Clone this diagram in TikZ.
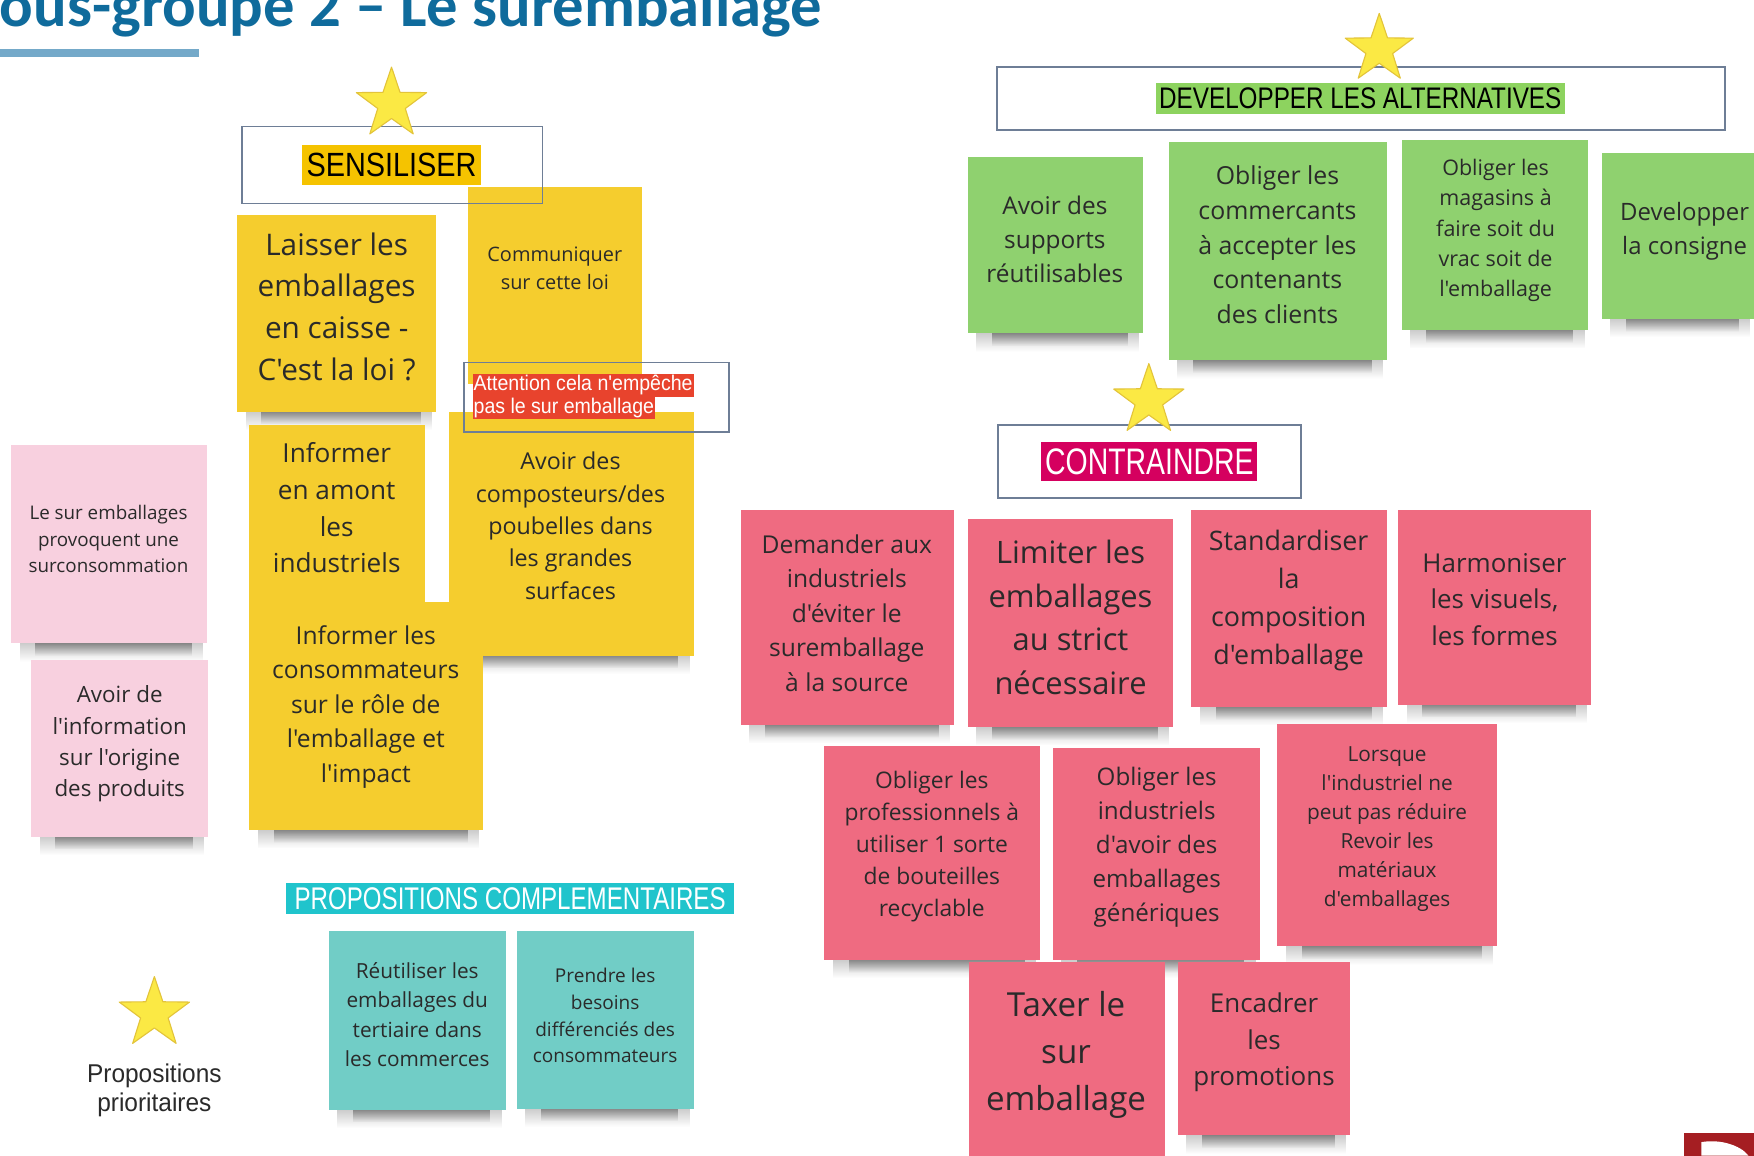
\documentclass[tikz,border=0pt]{standalone}
\usepackage{fontspec}
\usepackage{graphicx}
\setmainfont{Open Sans}[Ligatures=TeXOff]
\newfontfamily\hdfont{Liberation Sans}[Ligatures=TeXOff]
\newfontfamily\titlefont{Carlito}[Ligatures=TeXOff]
\usetikzlibrary{shapes.geometric,fit,backgrounds,fadings}
\definecolor{yel}{HTML}{F5CD2E}
\definecolor{pinkl}{HTML}{F8D0DF}
\definecolor{tealn}{HTML}{71CDC6}
\definecolor{greenn}{HTML}{8FD16F}
\definecolor{redn}{HTML}{EF6B81}
\definecolor{boxline}{HTML}{6E7E96}
\definecolor{staryel}{HTML}{FBE944}
\definecolor{starline}{HTML}{E3C43A}
\definecolor{titleblue}{HTML}{0F6B9C}
\definecolor{barblue}{HTML}{74A9C9}
\definecolor{hlyel}{HTML}{F5C300}
\definecolor{hlgreen}{HTML}{8DD35F}
\definecolor{hlmag}{HTML}{D5005F}
\definecolor{hlcyan}{HTML}{20C4CC}
\definecolor{hlred}{HTML}{E8432D}
\definecolor{logored}{HTML}{A51E22}
\definecolor{notetext}{HTML}{2A2A2A}
\tikzfading[name=shfa, top color=transparent!78, bottom color=transparent!100]
\tikzfading[name=shfb, top color=transparent!62, bottom color=transparent!100]
\newcommand\fs[2]{\fontsize{#1pt}{#2pt}\selectfont}
\newcommand\sq[2]{\scalebox{#1}[1]{#2}}
\tikzset{
  note/.style={rectangle, fill=#1, inner sep=0pt, draw=none},
  ntxt/.style={align=center, inner sep=0pt, text=notetext},
  hbox/.style={rectangle, draw=boxline, line width=0.8pt, inner sep=0pt},
  hl/.style={rectangle, inner sep=0pt, draw=none, font=\hdfont},
  starry/.style={star, star points=5, star point ratio=2.55, fill=staryel, draw=starline,
    line width=0.5pt, line join=round, minimum size=#1, inner sep=0pt}
}
\begin{document}
\begin{tikzpicture}[x=0.5pt,y=-0.5pt]
\useasboundingbox (0,0) rectangle (1568,1033);
\begin{scope}[on background layer]
  \fill[white] (0,0) rectangle (1568,1033);
\end{scope}

% title
\begin{scope}
  \clip (0,0) rectangle (1568,1033);
  \node[anchor=base west, inner sep=0pt, text=titleblue, font={\titlefont\bfseries\fs{28}{30}}] (title) at (-27,24) {Sous-groupe 2 – Le suremballage};
\end{scope}
\fill[barblue] (0,44) rectangle (178,51);

% ===== SENSIBILISER group =====
\node[note=yel, fit={(418,167)(574,343)}] (y2) {};
\node[ntxt, font={\fs{8.9}{12.5}}] (y2t) at (496,240) {Communiquer\\sur cette loi};

\node[hbox, fit={(216,113)(485,182)}] (sensbox) {};
\node[hl, fill=hlyel, text=black, font={\hdfont\fs{15}{15}}, minimum width=80pt, minimum height=17.5pt] (senst) at (350,147.5) {\sq{0.86}{SENSILISER}};
\node[starry=33pt] (s1) at (350,93) {};

\node[note=yel, fit={(212,192)(390,368)}] (y1) {};
\node[ntxt, font={\fs{13.3}{18.6}}] (y1t) at (301,274) {Laisser les\\emballages\\en caisse -\\C'est la loi ?};

\node[note=yel, fit={(401,368)(620,586)}] (y3) {};
\node[ntxt, font={\fs{10.4}{14.5}}] (y3t) at (510,470) {Avoir des\\composteurs/des\\poubelles dans\\les grandes\\surfaces};

\node[note=yel, fit={(223,380)(380,540)}] (y4) {};
\node[ntxt, font={\fs{11.7}{16.4}}] (y4t) at (301,454) {Informer\\en amont\\les\\industriels};

\node[note=yel, fit={(223,538)(432,742)}] (y5) {};
\node[ntxt, font={\fs{11}{15.4}}] (y5t) at (327,632) {Informer les\\consommateurs\\sur le rôle de\\l'emballage et\\l'impact};

\node[hbox, fit={(415,324)(652,386)}] (attbox) {};
\node[hl, fill=hlred, text=white, font={\hdfont\fs{9.5}{9.5}}, anchor=west, minimum height=10.5pt, inner xsep=0.5pt] (att1) at (422,344.5) {\sq{0.92}{Attention cela n'empêche}};
\node[hl, fill=hlred, text=white, font={\hdfont\fs{9.5}{9.5}}, anchor=west, minimum height=10pt, inner xsep=0.5pt] (att2) at (422,365) {\sq{0.92}{pas le sur emballage}};

% pink notes
\node[note=pinkl, fit={(10,398)(185,575)}] (p1) {};
\node[ntxt, font={\fs{8.4}{11.8}}] (p1t) at (97,482) {Le sur emballages\\provoquent une\\surconsommation};
\node[note=pinkl, fit={(28,590)(186,748)}] (p2) {};
\node[ntxt, font={\fs{10}{14}}] (p2t) at (107,665) {Avoir de\\l'information\\sur l'origine\\des produits};

% complementary
\node[hl, fill=hlcyan, text=white, font={\hdfont\fs{14}{14}}, minimum width=200pt, minimum height=14pt] (compt) at (456,803) {\sq{0.77}{PROPOSITIONS COMPLEMENTAIRES}};
\node[note=tealn, fit={(294,832)(452,992)}] (t1) {};
\node[ntxt, font={\fs{9.3}{13}}] (t1t) at (373,907) {Réutiliser les\\emballages du\\tertiaire dans\\les commerces};
\node[note=tealn, fit={(462,832)(620,991)}] (t2) {};
\node[ntxt, font={\fs{8.5}{11.9}}] (t2t) at (541,908) {Prendre les\\besoins\\différenciés des\\consommateurs};

% legend
\node[starry=33pt] (s4) at (138,906) {};
\node[align=center, inner sep=0pt, text=notetext, font={\hdfont\fs{11.5}{13}}] (legt) at (138,975) {\sq{0.95}{Propositions}\\\sq{0.95}{prioritaires}};

% ===== DEVELOPPER group =====
\node[hbox, fit={(891,60)(1542,116)}] (devbox) {};
\node[hl, fill=hlgreen, text=black, font={\hdfont\fs{13.3}{13.3}}, minimum width=183pt, minimum height=14pt] (devt) at (1216,88) {\sq{0.815}{DEVELOPPER LES ALTERNATIVES}};
\node[starry=32pt] (s2) at (1233,44) {};

\node[note=greenn, fit={(865,140)(1022,298)}] (g1) {};
\node[ntxt, font={\fs{10.9}{15.3}}] (g1t) at (943,214) {Avoir des\\supports\\réutilisables};
\node[note=greenn, fit={(1045,127)(1240,322)}] (g2) {};
\node[ntxt, font={\fs{11.1}{15.5}}] (g2t) at (1142,219) {Obliger les\\commercants\\à accepter les\\contenants\\des clients};
\node[note=greenn, fit={(1253,125)(1420,295)}] (g3) {};
\node[ntxt, font={\fs{9.6}{13.5}}] (g3t) at (1337,206) {Obliger les\\magasins à\\faire soit du\\vrac soit de\\l'emballage};
\node[note=greenn, fit={(1432,137)(1568,285)}] (g4) {};
\node[ntxt, font={\fs{10.7}{15}}] (g4t) at (1506,207) {Developper\\la consigne};

% ===== CONTRAINDRE group =====
\node[hbox, fit={(892,380)(1163,445)}] (conbox) {};
\node[hl, fill=hlmag, text=white, font={\hdfont\fs{16.5}{16.5}}, minimum width=96.5pt, minimum height=17.5pt] (cont) at (1027.5,412.5) {\sq{0.77}{CONTRAINDRE}};
\node[starry=33pt] (s3) at (1027,358) {};

\node[note=redn, fit={(662,456)(853,648)}] (r1) {};
\node[ntxt, font={\fs{11}{15.4}}] (r1t) at (757,548) {Demander aux\\industriels\\d'éviter le\\suremballage\\à la source};
\node[note=redn, fit={(865,464)(1049,650)}] (r2) {};
\node[ntxt, font={\fs{13.8}{19.4}}] (r2t) at (957,552) {Limiter les\\emballages\\au strict\\nécessaire};
\node[note=redn, fit={(1065,456)(1240,632)}] (r3) {};
\node[ntxt, font={\fs{12}{16.9}}] (r3t) at (1152,537) {Standardiser\\la\\composition\\d'emballage};
\node[note=redn, fit={(1250,456)(1422,630)}] (r4) {};
\node[ntxt, font={\fs{11.6}{16.3}}] (r4t) at (1336,536) {Harmoniser\\les visuels,\\les formes};
\node[note=redn, fit={(737,667)(930,858)}] (r5) {};
\node[ntxt, font={\fs{10.2}{14.3}}] (r5t) at (833,757) {Obliger les\\professionnels à\\utiliser 1 sorte\\de bouteilles\\recyclable};
\node[note=redn, fit={(941,669)(1126,858)}] (r6) {};
\node[ntxt, font={\fs{10.8}{15.2}}] (r6t) at (1034,757) {Obliger les\\industriels\\d'avoir des\\emballages\\génériques};
\node[note=redn, fit={(1142,647)(1338,846)}] (r7) {};
\node[ntxt, font={\fs{9.3}{13}}] (r7t) at (1240,741) {Lorsque\\l'industriel ne\\peut pas réduire\\Revoir les\\matériaux\\d'emballages};
\node[note=redn, fit={(866,860)(1041,1033)}] (r8) {};
\node[ntxt, font={\fs{14.8}{20.8}}] (r8t) at (953,943) {Taxer le\\sur\\emballage};
\node[note=redn, fit={(1053,860)(1207,1015)}] (r9) {};
\node[ntxt, font={\fs{11.6}{16.3}}] (r9t) at (1130,932) {Encadrer\\les\\promotions};

% logo corner
\fill[logored] (1505,1013) rectangle (1568,1033);
\fill[white] (1521,1033) -- (1521,1021) .. controls (1538,1018) and (1556,1024) .. (1563,1033) -- cycle;

% shadows
\begin{scope}[on background layer]
\foreach \n in {y1,y2,y3,y4,y5,p1,p2,t1,t2,g1,g2,g3,g4,r1,r2,r3,r4,r5,r6,r7,r9} {
  \fill[black, path fading=shfa] ([xshift=4pt,yshift=1pt]\n.south west) rectangle ([xshift=-2pt,yshift=-8pt]\n.south east);
  \fill[black, path fading=shfb] ([xshift=11pt,yshift=1pt]\n.south west) rectangle ([xshift=-7pt,yshift=-5.5pt]\n.south east);
}
\end{scope}
\end{tikzpicture}
\end{document}
